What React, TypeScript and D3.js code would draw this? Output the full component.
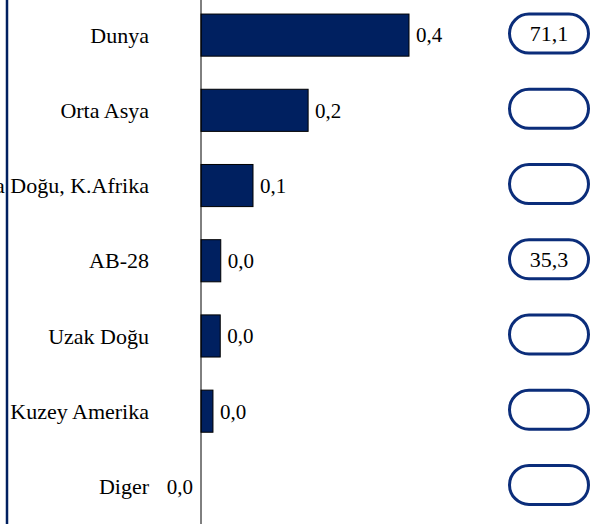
import React from 'react';
import * as d3 from 'd3';

// kategoriler ve degerler
const categories = ['Dunya', 'Orta Asya', 'Orta Doğu, K.Afrika', 'AB-28', 'Uzak Doğu', 'Kuzey Amerika', 'Diger'];
const values = [0.4, 0.206, 0.1, 0.038, 0.037, 0.023, 0.0];
const badges = [71.1, null, null, 35.3, null, null, null];

const W = 616;
const H = 524;
const NAVY = '#002060';
const FONT = '"Liberation Serif", "Times New Roman", serif';

const fmt = (v: number) => d3.format('.1f')(v).replace('.', ',');

const App = () => {
    const x = d3.scaleLinear().domain([0, 0.8]).range([201, 617]);
    const y = d3.scaleBand().domain(categories).range([-2.5, 524]).paddingInner(0.44).paddingOuter(0.22);
    const bh = y.bandwidth();

    return (
        <svg width={W} height={H} style={{ position: 'absolute', left: 0, top: 0, background: '#fff' }}>
            {/* cubuklar */}
            {categories.map((c, i) => (
                <rect
                    key={c}
                    x={x(Math.min(0, values[i]))}
                    y={y(c)}
                    width={Math.abs(x(values[i]) - x(0))}
                    height={bh}
                    fill={NAVY}
                    stroke="#000"
                    strokeWidth={values[i] === 0 ? 0 : 1}
                />
            ))}
            {/* kategori etiketleri */}
            {categories.map(c => (
                <text key={c} x={149} y={y(c) + bh / 2} dy="0.35em" textAnchor="end"
                    fontFamily={FONT} fontSize={22} fill="#000">{c}</text>
            ))}
            {/* deger etiketleri */}
            {categories.map((c, i) => (
                <text key={c} x={values[i] > 0 ? x(values[i]) + 7 : x(0) - 8} y={y(c) + bh / 2} dy="0.35em"
                    textAnchor={values[i] > 0 ? 'start' : 'end'} fontFamily={FONT} fontSize={21} fill="#000">
                    {fmt(values[i])}
                </text>
            ))}
            {/* eksen */}
            <line x1={x(0)} x2={x(0)} y1={0} y2={H} stroke="#000" strokeWidth={1} />
            {/* sol mavi cizgi */}
            <line x1={7} x2={7} y1={0} y2={H} stroke={NAVY} strokeWidth={2.5} />
            {/* sag kutucuklar */}
            {categories.map((c, i) => (
                <g key={c} transform={`translate(549,${y(c) + bh / 2 - 1.5})`}>
                    <rect x={-39.5} y={-19.5} width={79} height={39} rx={19.5} ry={19.5}
                        fill="#fff" stroke="#0B2D7A" strokeWidth={3} />
                    {badges[i] !== null && (
                        <text textAnchor="middle" dy="0.35em" fontFamily={FONT} fontSize={22} fill="#000">
                            {fmt(badges[i] as number)}
                        </text>
                    )}
                </g>
            ))}
        </svg>
    );
};

export default App;
